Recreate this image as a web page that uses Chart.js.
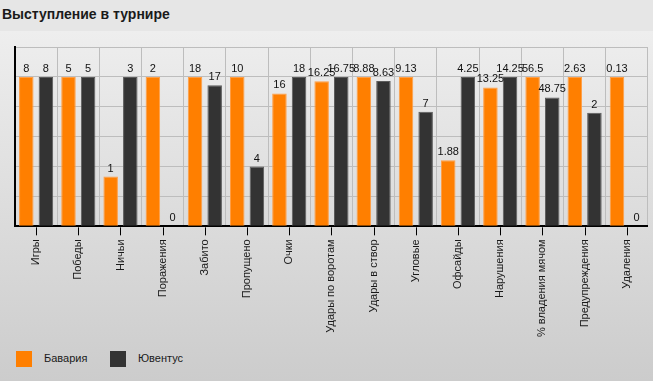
<!DOCTYPE html>
<html>
<head>
<meta charset="utf-8">
<script src="https://cdn.jsdelivr.net/npm/chart.js@4.4.1/dist/chart.umd.min.js"></script>
<style>
  html, body { margin: 0; padding: 0; }
  body {
    width: 653px; height: 381px; overflow: hidden; position: relative;
    background: #e6e6e6;
    font-family: Arial, "Liberation Sans", sans-serif;
  }
  #title {
    position: absolute; left: 2px; top: 6px;
    font-size: 14px; font-weight: bold; color: #1a1a1a;
  }
  #panel {
    position: absolute; left: 0; top: 31px; width: 653px; height: 350px;
    background: linear-gradient(#eeeeee, #cccccc);
  }
  #chartBox { position: absolute; left: 0; top: 0; width: 653px; height: 319px; }
  #legend { position: absolute; left: 16px; top: 320px; height: 16px; }
  .item { position: absolute; top: 0; height: 16px; white-space: nowrap; }
  .box { position: absolute; left: 0; top: 0; width: 16px; height: 16px; }
  .txt { position: absolute; left: 28px; top: 1px; font-size: 11px; color: #1a1a1a; }
</style>
</head>
<body>
<div id="title">Выступление в турнире</div>
<div id="panel">
  <div id="chartBox"><canvas id="perfChart"></canvas></div>
  <div id="legend"></div>
</div>
<script>
const categories = [
    "Игры", "Победы", "Ничьи", "Поражения", "Забито", "Пропущено", "Очки",
    "Удары по воротам", "Удары в створ", "Угловые", "Офсайды", "Нарушения",
    "% владения мячом", "Предупреждения", "Удаления"
];
const bayern = [8, 5, 1, 2, 18, 10, 16, 16.25, 8.88, 9.13, 1.88, 13.25, 56.5, 2.63, 0.13];
const juventus = [8, 5, 3, 0, 17, 4, 18, 16.75, 8.63, 7, 4.25, 14.25, 48.75, 2, 0];
const teamNames = ["Бавария", "Ювентус"];
const teamColors = ["#ff7f00", "#333333"];
const teamBorders = ["#ff9e45", "#5c5c5c"];

// bars are scaled per category: the bigger of the two fills the height
function relative(values, other) {
    return values.map((v, i) => {
        const top = Math.max(v, other[i]);
        return top ? v / top : 0;
    });
}

const rawValues = [bayern, juventus];

const valueLabels = {
    id: "valueLabels",
    afterDatasetsDraw(chart) {
        const ctx = chart.ctx;
        ctx.save();
        ctx.font = "11px Arial, 'Liberation Sans', sans-serif";
        ctx.fillStyle = "#111111";
        ctx.textAlign = "center";
        ctx.textBaseline = "alphabetic";
        chart.data.datasets.forEach((ds, d) => {
            chart.getDatasetMeta(d).data.forEach((bar, i) => {
                ctx.fillText(String(rawValues[d][i]), bar.x, bar.y - 5);
            });
        });
        ctx.restore();
    },
};

const centerTicks = {
    id: "centerTicks",
    afterDraw(chart) {
        const x = chart.scales.x;
        const ctx = chart.ctx;
        ctx.save();
        ctx.strokeStyle = "#000000";
        ctx.lineWidth = 1;
        categories.forEach((c, i) => {
            const px = Math.round(x.getPixelForValue(i)) + 0.5;
            ctx.beginPath();
            ctx.moveTo(px, x.top + 1);
            ctx.lineTo(px, x.top + 9);
            ctx.stroke();
        });
        ctx.restore();
    },
};

function buildLegend() {
    const legend = document.getElementById("legend");
    teamNames.forEach((name, i) => {
        const item = document.createElement("div");
        item.className = "item";
        item.style.left = (i * 94) + "px";
        item.innerHTML = `<div class="box" style="background:${teamColors[i]}"></div><div class="txt">${name}</div>`;
        legend.appendChild(item);
    });
}

new Chart(document.getElementById("perfChart"), {
    type: "bar",
    data: {
        labels: categories,
        datasets: [
            {
                label: teamNames[0],
                data: relative(bayern, juventus),
                backgroundColor: teamColors[0],
                borderColor: teamBorders[0],
                borderWidth: 1,
                borderSkipped: "bottom",
                categoryPercentage: 0.93,
                barPercentage: 0.74,
            },
            {
                label: teamNames[1],
                data: relative(juventus, bayern),
                backgroundColor: teamColors[1],
                borderColor: teamBorders[1],
                borderWidth: 1,
                borderSkipped: "bottom",
                categoryPercentage: 0.93,
                barPercentage: 0.74,
            },
        ],
    },
    options: {
        responsive: true,
        maintainAspectRatio: false,
        animation: false,
        layout: { padding: { left: 15, top: 16, right: 0, bottom: 0 } },
        plugins: {
            legend: { display: false },
            tooltip: { enabled: false },
        },
        scales: {
            x: {
                grid: { color: "#bdbdbd", drawTicks: false },
                border: { color: "#000000", width: 2 },
                ticks: {
                    color: "#1a1a1a",
                    font: { family: "Arial, 'Liberation Sans', sans-serif", size: 11 },
                    minRotation: 90,
                    maxRotation: 90,
                    padding: 13,
                    autoSkip: false,
                },
            },
            y: {
                min: 0,
                max: 1.2,
                grid: { color: "#bdbdbd", drawTicks: false },
                border: { color: "#000000", width: 2 },
                ticks: { display: false, stepSize: 0.2 },
            },
        },
    },
    plugins: [valueLabels, centerTicks],
});

buildLegend();
</script>
</body>
</html>
